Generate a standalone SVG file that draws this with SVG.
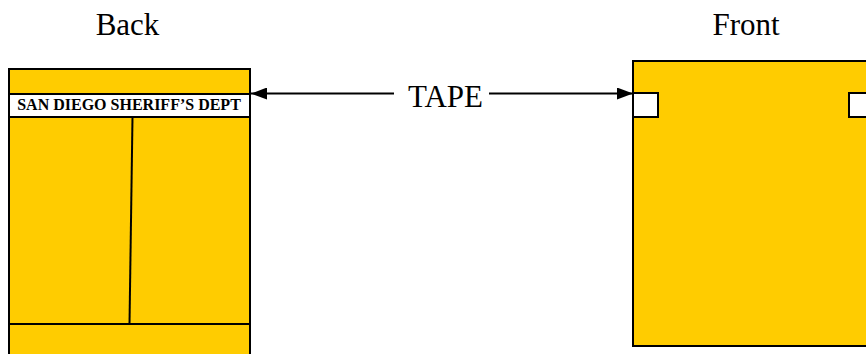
<svg xmlns="http://www.w3.org/2000/svg" width="866" height="354" viewBox="0 0 866 354">
<defs>
<style>
.panel{fill:#FFCC00;stroke:#000;stroke-width:2}
.box{fill:#fff;stroke:#000;stroke-width:2}
.ln{stroke:#000;stroke-width:2;fill:none}
.lbl{font-family:"Liberation Serif","Times New Roman",serif;font-size:31px;fill:#000}
.dept{font-family:"Liberation Serif","Times New Roman",serif;font-size:16px;font-weight:bold;fill:#000}
</style>
<marker id="ah" viewBox="0 0 10 10" refX="10" refY="5" markerWidth="10" markerHeight="10" markerUnits="userSpaceOnUse" orient="auto-start-reverse">
<path d="M0,1 L10,5 L0,9 Z" fill="#000"/>
</marker>
<marker id="ahl" viewBox="0 0 16 12" refX="16" refY="6" markerWidth="16" markerHeight="12" markerUnits="userSpaceOnUse" orient="auto-start-reverse">
<path d="M0,0 L16,6 L0,12 Z" fill="#000"/>
</marker>
</defs>
<g id="back">
<rect class="panel" x="9" y="69" width="241" height="300"/>
<rect class="box" x="9" y="94" width="241" height="23"/>
<text class="dept" x="129" y="110" text-anchor="middle">SAN DIEGO SHERIFF’S DEPT</text>
<line class="ln" x1="132.5" y1="117" x2="129.5" y2="324"/>
<line class="ln" x1="9" y1="324" x2="250" y2="324"/>
<text class="lbl" x="127.5" y="35" text-anchor="middle">Back</text>
</g>
<g id="front">
<rect class="panel" x="633" y="61" width="250" height="285"/>
<rect class="box" x="633" y="93" width="25" height="24"/>
<rect class="box" x="849" y="93" width="30" height="24"/>
<text class="lbl" x="746" y="35" text-anchor="middle">Front</text>
</g>
<g id="connectors">
<line class="ln" x1="394" y1="93.5" x2="251" y2="93.5" marker-end="url(#ahl)"/>
<line class="ln" x1="489" y1="93.5" x2="633" y2="93.5" marker-end="url(#ahl)"/>
<text class="lbl" x="445.5" y="107" text-anchor="middle">TAPE</text>
</g>
</svg>
